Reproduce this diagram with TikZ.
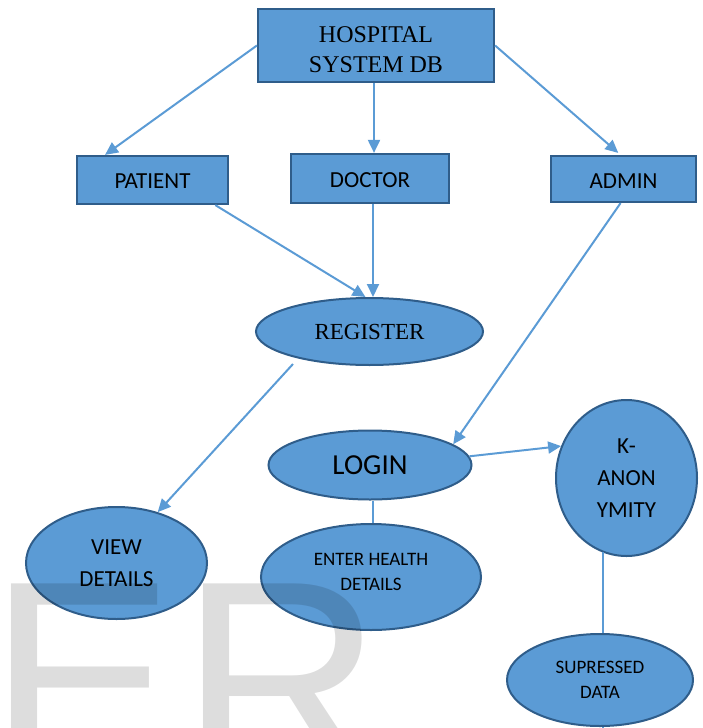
\documentclass[tikz,border=0pt]{standalone}
\usepackage{fontspec}
\setmainfont{Liberation Serif}
\newfontfamily\calfont{Carlito}
\newfontfamily\wmfont{Liberation Sans}
\usetikzlibrary{arrows.meta,shapes.geometric,calc}
\definecolor{nodefill}{HTML}{5B9BD5}
\definecolor{nodeedge}{HTML}{2F5D8A}
\definecolor{linkcol}{HTML}{5B9BD5}
\begin{document}
\begin{tikzpicture}[x=1pt,y=-1pt,
  box/.style={draw=nodeedge, fill=nodefill, line width=2.2pt, rectangle, inner sep=0pt, align=center},
  oval/.style={draw=nodeedge, fill=nodefill, line width=2pt, ellipse, inner sep=0pt, align=center},
  link/.style={draw=linkcol, line width=2pt},
  arr/.style={link, -{Triangle[length=13pt,width=12pt]}},
  serif/.style={font=\fontsize{24}{30}\selectfont},
  sans/.style={font=\calfont\fontsize{23}{32}\selectfont},
  small/.style={font=\calfont\fontsize{19}{25}\selectfont},
  wmark/.style={anchor=base west, inner sep=0pt, text=black, text opacity=0.135, font=\wmfont\fontsize{280}{280}\selectfont}]
\useasboundingbox (0,0) rectangle (702,728);

% nodes
\node[box, serif, minimum width=236pt, minimum height=73pt] (hosp) at (376,45.5) {\rule{0pt}{24pt}HOSPITAL\\SYSTEM DB};
\node[box, sans, minimum width=151pt, minimum height=48pt] (patient) at (152.5,180) {\rule{0pt}{17pt}PATIENT};
\node[box, sans, minimum width=158pt, minimum height=49pt] (doctor) at (370,178.5) {\rule{0pt}{18pt}DOCTOR};
\node[box, sans, minimum width=145pt, minimum height=46pt] (admin) at (623.5,179) {\rule{0pt}{18pt}ADMIN};
\node[oval, font=\fontsize{23}{28}\selectfont, minimum width=227pt, minimum height=67pt] (register) at (369.5,331.5) {REGISTER};
\node[oval, font=\calfont\fontsize{29}{34}\selectfont, minimum width=203pt, minimum height=69pt] (login) at (370,465) {LOGIN};
\node[oval, sans, minimum width=141pt, minimum height=156pt] (kanon) at (626.5,478) {K-\\ANON\\YMITY};
\node[oval, sans, minimum width=181pt, minimum height=112pt] (view) at (116.5,563) {VIEW\\DETAILS};
\node[oval, small, minimum width=220pt, minimum height=106pt] (enter) at (371,577) {ENTER HEALTH\\DETAILS\rule[-11pt]{0pt}{0pt}};
\node[oval, small, minimum width=186pt, minimum height=92pt] (supr) at (600,680) {SUPRESSED\\DATA};

% connectors
\draw[arr] (hosp.west) -- ($(patient.north west)!0.19!(patient.north east)$);
\draw[arr] ([xshift=-2pt]hosp.south) -- ([xshift=-2pt]hosp.south |- doctor.north);
\draw[arr, shorten >=3pt] (hosp.east) -- ($(admin.north west)!0.48!(admin.north east)$);
\draw[arr] ($(patient.south west)!0.91!(patient.south east)$) -- ([xshift=-4pt]register.north);
\draw[arr] ([xshift=3pt]doctor.south) -- ([xshift=3pt]doctor.south |- register.north);
\draw[arr] ($(admin.south west)!0.48!(admin.south east)$) -- (login.14);
\draw[arr] (login.5) -- (kanon.154);
\draw[arr] ($(register.center)+(-76.5,32.5)$) -- (view.51);
\draw[link] ([xshift=3pt]login.south) -- ([xshift=3pt]login.south |- enter.north);
\coordinate (kbot) at ($(kanon.center)+(-23.5,74)$);
\draw[link] (kbot) -- (kbot |- supr.north);
\coordinate (stubend) at ($(supr.south)+(3,4)$);
\draw[link] ([xshift=3pt]supr.south) -- (stubend);

% watermark
\node[wmark] (wmE) at (-12,776.5) {E};
\node[wmark] (wmR) at (180,776.5) {R};
\end{tikzpicture}
\end{document}
